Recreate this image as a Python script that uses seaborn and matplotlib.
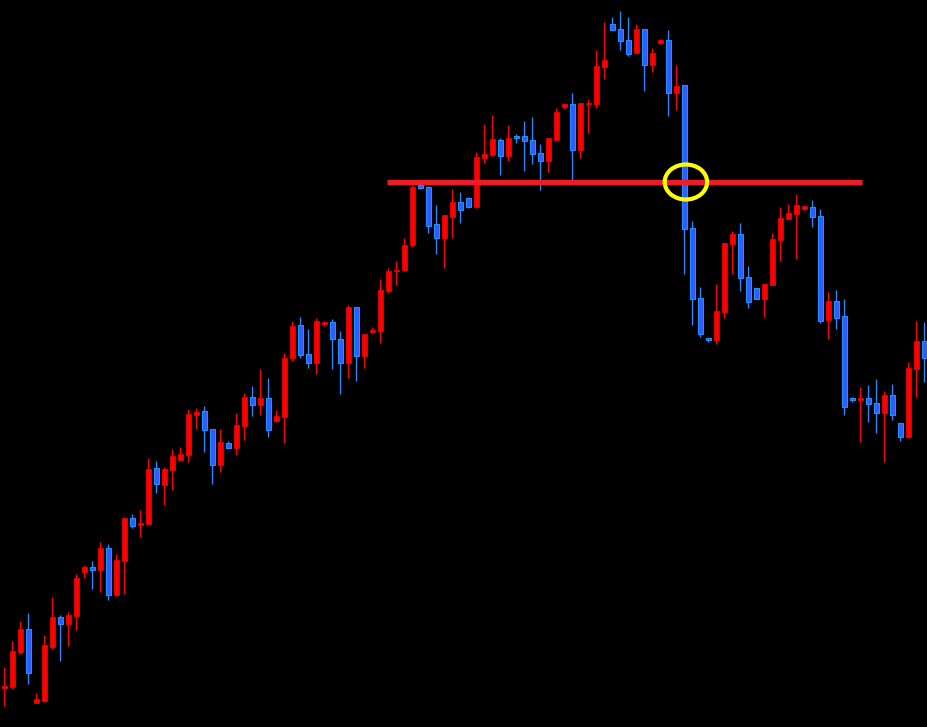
import numpy as np
import pandas as pd
import seaborn as sns
import matplotlib.pyplot as plt
from matplotlib.patches import Ellipse

# Candle data (price units)
opens = [39, 40.3, 75.3, 98, 24.3, 26, 80, 110, 103.3, 111.3,
         155.3, 160, 157.3, 179, 132, 166.3, 209, 202, 203.3, 258.7,
         242.3, 257.3, 267.3, 272.3, 312.3, 315.7, 297.7, 262.3, 283.7, 279.3,
         301.3, 330, 322, 329, 306, 310.3, 369.3, 402, 373, 364.3,
         403.5, 405, 388, 363.7, 420, 371.3, 395.5, 396, 436, 456,
         457, 482, 542, 540, 503, 489.3, 510, 525, 529, 520,
         569.3, 572, 587, 571.3, 590.5, 591, 587, 574, 566.3, 587.3,
         620.3, 623, 577.3, 623, 623.3, 660.3, 703, 698, 687, 674,
         698, 662.3, 684.3, 687, 634.3, 642, 499, 429, 389, 387.3,
         415.3, 483.3, 493, 450, 439, 428.3, 442.3, 487.3, 508, 513.3,
         518.3, 520, 511, 407.3, 426, 411, 329, 327.3, 329, 324,
         314.3, 332, 304, 290, 358.3, 386]
highs = [59.7, 86, 106, 114, 34, 92, 130, 112, 114.7, 153,
         162, 166, 185, 183, 173, 209, 213, 217, 269, 266,
         259.7, 278, 280, 318, 319, 321, 297.7, 298, 286, 314,
         334, 341, 358, 349, 317, 374, 406, 410, 398, 409,
         406.3, 408, 396, 422, 420, 393.3, 400, 448, 459, 466,
         489, 542, 543, 541, 522, 512, 538, 535, 530, 575,
         603, 612, 589, 602, 593, 606, 610, 583, 589, 619,
         623, 634, 624, 628, 677, 705, 710, 716, 710, 703,
         698, 679, 687, 697, 662, 642, 506, 440, 389, 443,
         484, 496, 504, 461, 439, 443, 494, 520, 523, 533,
         521, 527, 518, 435, 437, 428, 330, 340, 342, 348,
         336, 343, 304, 365, 406, 405]
lows = [21.3, 38.3, 73.3, 43.3, 23.7, 25.3, 78, 66, 81.3, 97.3,
        149.3, 138, 135.3, 127.3, 131.3, 133.3, 199.3, 190.3, 203.3, 234.3,
        222, 237.3, 267.3, 265.3, 298, 275.3, 243.3, 255.3, 278.7, 272,
        287.3, 311.3, 312.3, 290.3, 305.3, 284, 366, 369.3, 359, 353.3,
        401.3, 358.3, 333.3, 349.3, 346.3, 359.3, 394, 384, 434, 442,
        456, 480, 538, 494.3, 473.3, 459.3, 489.3, 504.3, 519, 519,
        564.3, 571.3, 552.3, 566.3, 584.3, 556.3, 563.3, 537.3, 555.3, 587,
        618.3, 546, 569.3, 594, 619.3, 648, 697.3, 677, 671.3, 674,
        636.3, 655.3, 683.3, 611.3, 617.3, 453.3, 402.3, 390.3, 385.3, 383.3,
        409.3, 453.3, 436.3, 419.3, 428.3, 410.3, 442.3, 466.3, 508, 468,
        517.3, 500.3, 404.3, 388.3, 398.3, 312.3, 325.3, 285.3, 305.3, 294.3,
        265.3, 307.3, 286.3, 289.3, 330, 345.3]
closes = [41, 76, 98, 54.3, 28, 82, 110, 103.3, 112, 149,
          160, 157.3, 179, 132.3, 167, 209, 201.3, 204, 258, 242.7,
          258, 271, 273, 313, 315, 297.3, 262.3, 285, 278.7, 302,
          330, 322.3, 329, 297.3, 311.3, 369, 401, 372.3, 364.3, 406,
          405, 388.3, 363.7, 420, 371.3, 393.3, 397, 437, 456, 457.5,
          482, 540, 539.3, 501.3, 489.3, 512, 525, 517.3, 520.3, 570,
          573, 588, 571.3, 589, 589.5, 586.3, 573.3, 566.3, 589, 615,
          623, 577.3, 624, 624.3, 661, 667, 697.3, 686.3, 673.3, 698,
          662.3, 674, 687, 634.3, 641, 498.3, 428.3, 393.3, 387.3, 416,
          484, 493, 449.3, 425.3, 428.3, 443, 488, 509, 514, 522,
          521, 510.3, 406.3, 426, 409.3, 320.3, 327.5, 329.3, 323.3, 314.3,
          332, 312.3, 290.3, 359, 386, 369.3]

level_price = 545
level_start, level_end = 47.8, 107.2
marker_pos = 85.2

df = pd.DataFrame({"open": opens, "high": highs, "low": lows, "close": closes})
df["idx"] = np.arange(len(df))
df["up"] = df["close"] >= df["open"]

sns.set_style("dark", {"axes.facecolor": "black", "figure.facecolor": "black"})

fig = plt.figure(figsize=(9.28, 7.27), dpi=100)
ax = fig.add_axes([0, 0, 1, 1])
ax.set_facecolor("black")

red = "#ff0000"
blue_edge = "#1e90ff"
blue_fill = "#2f5cff"

# wicks
for up, grp in df.groupby("up"):
    ax.vlines(grp["idx"], grp["low"], grp["high"],
              color=red if up else blue_edge, linewidth=0.9, zorder=2)

# bodies
body_lo = df[["open", "close"]].min(axis=1)
body_h = (df["close"] - df["open"]).abs().clip(lower=1.2)
up = df["up"]
ax.bar(df["idx"][up], body_h[up], bottom=body_lo[up], width=0.62,
       color=red, edgecolor=red, linewidth=0.5, zorder=3)
ax.bar(df["idx"][~up], body_h[~up], bottom=body_lo[~up], width=0.62,
       color=blue_fill, edgecolor=blue_edge, linewidth=0.8, zorder=3)

# horizontal level
level = pd.DataFrame({"x": [level_start, level_end], "y": [level_price, level_price]})
sns.lineplot(data=level, x="x", y="y", ax=ax, color="#ee1c25",
             linewidth=3.8, solid_capstyle="butt", zorder=4)

# highlight circle
ax.add_patch(Ellipse((marker_pos, level_price), width=5.3, height=35,
                     fill=False, edgecolor="#ffff00", linewidth=3.0, zorder=5))

ax.set_xlim(-0.5375, 115.4625)
ax.set_ylim(0, 727)
ax.set_axis_off()

fig.savefig("out.png", dpi=100, facecolor="black")
